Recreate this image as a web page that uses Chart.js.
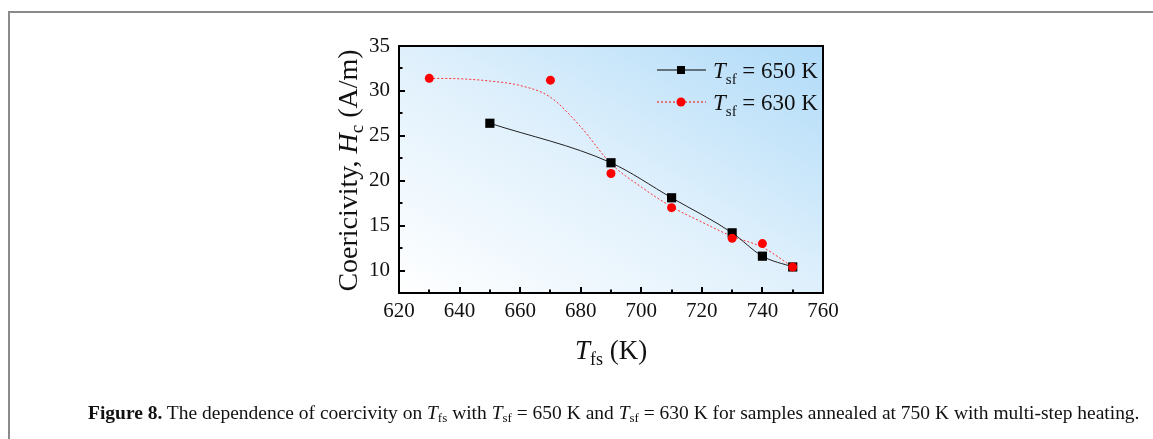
<!DOCTYPE html>
<html>
<head>
<meta charset="utf-8">
<script src="https://cdn.jsdelivr.net/npm/chart.js@4.4.1/dist/chart.umd.min.js"></script>
<style>
  body { margin: 0; background: #fff; width: 1153px; height: 439px; overflow: hidden; position: relative; }
  #frame { position: absolute; left: 8px; top: 11px; width: 1160px; height: 440px; border-top: 2px solid #8a8a8a; border-left: 2px solid #8a8a8a; }
  #chart-holder { position: absolute; left: 0; top: 0; width: 1153px; height: 439px; }
  #caption { position: absolute; left: 88px; top: 403px; font-family: "Liberation Serif", serif; font-size: 18px; white-space: nowrap; transform-origin: 0 0; color: #111; }
  #caption sub { font-size: 12px; vertical-align: -3px; line-height: 0; }
</style>
</head>
<body>
<div id="frame"></div>
<div id="chart-holder"><canvas id="coercivity" width="1153" height="439"></canvas></div>
<div id="caption"><b>Figure 8.</b> The dependence of coercivity on <i>T</i><sub>fs</sub> with <i>T</i><sub>sf</sub> = 650 K and <i>T</i><sub>sf</sub> = 630 K for samples annealed at 750 K with multi-step heating.</div>

<script>
  // T_sf = 650 K
  var temps650 = [650, 690, 710, 730, 740, 750];
  var hc650 = [26.4, 22.0, 18.1, 14.2, 11.6, 10.4];

  // T_sf = 630 K
  var temps630 = [630, 670, 690, 710, 730, 740, 750];
  var hc630 = [31.4, 31.2, 20.8, 17.0, 13.6, 13.0, 10.4];

  // smoothed curve through the 630 K points, as drawn in the figure
  var fitTemps630 = [630, 640, 650, 660, 670, 680, 690, 700, 710, 720, 730, 740, 750];
  var fitHc630 = [31.4, 31.35, 31.1, 30.6, 29.3, 26.0, 21.9, 19.3, 17.1, 15.4, 13.8, 12.6, 10.4];

  var xTicks = [620, 640, 660, 680, 700, 720, 740, 760];
  var yTicks = [10, 15, 20, 25, 30, 35];

  function toPoints(xs, ys) {
    return xs.map(function(x, i) { return { x: x, y: ys[i] }; });
  }

  var serif = '"Liberation Serif", "Times New Roman", serif';

  // draws a mixed run of text pieces: [text, fontSize, italic, baselineShift]
  function drawRuns(ctx, runs, x, y, align) {
    var total = 0;
    runs.forEach(function(r) {
      ctx.font = (r[2] ? 'italic ' : '') + r[1] + 'px ' + serif;
      r.w = ctx.measureText(r[0]).width;
      total += r.w;
    });
    var cx = align === 'center' ? x - total / 2 : x;
    runs.forEach(function(r) {
      ctx.font = (r[2] ? 'italic ' : '') + r[1] + 'px ' + serif;
      ctx.fillText(r[0], cx, y + (r[3] || 0));
      cx += r.w;
    });
  }

  var decorations = {
    id: 'decorations',
    beforeDatasetsDraw: function(chart) {
      var ctx = chart.ctx, a = chart.chartArea;
      var w = a.right - a.left, h = a.bottom - a.top;
      var cx = (a.left + a.right) / 2, cy = (a.top + a.bottom) / 2;
      // colour bands run parallel to the top-left / bottom-right diagonal
      var n = Math.sqrt(w * w + h * h);
      var dx = h / n, dy = -w / n, ext = w * h / n;
      var g = ctx.createLinearGradient(cx - dx * ext, cy - dy * ext, cx + dx * ext, cy + dy * ext);
      g.addColorStop(0, '#ffffff');
      g.addColorStop(0.5, '#dff0fc');
      g.addColorStop(1, '#b0dbf8');
      ctx.save();
      ctx.fillStyle = g;
      ctx.fillRect(a.left, a.top, w, h);
      ctx.restore();
    },
    afterDraw: function(chart) {
      var ctx = chart.ctx, a = chart.chartArea;
      var xs = chart.scales.x, ys = chart.scales.y;
      ctx.save();
      ctx.strokeStyle = '#000';
      ctx.lineWidth = 2;
      ctx.strokeRect(a.left, a.top, a.right - a.left, a.bottom - a.top);
      ctx.beginPath();
      for (var v = 620; v <= 760; v += 10) {
        var px = Math.round(xs.getPixelForValue(v));
        var len = v % 20 === 0 ? 6 : 3.5;
        ctx.moveTo(px, a.bottom); ctx.lineTo(px, a.bottom - len);
      }
      for (var u = 7.5; u <= 35; u += 2.5) {
        var py = Math.round(ys.getPixelForValue(u));
        var l2 = u % 5 === 0 ? 6 : 3.5;
        ctx.moveTo(a.left, py); ctx.lineTo(a.left + l2, py);
      }
      ctx.stroke();

      ctx.fillStyle = '#111';
      ctx.textBaseline = 'alphabetic';
      // x title
      drawRuns(ctx, [['T', 27, true], ['fs', 18, false, 6], [' (K)', 27, false]], 611, 359, 'center');
      // y title
      ctx.save();
      ctx.translate(357, (a.top + a.bottom) / 2 + 1);
      ctx.rotate(-Math.PI / 2);
      drawRuns(ctx, [['Coericivity, ', 28, false], ['H', 28, true], ['c', 19, false, 6], [' (A/m)', 28, false]], 0, 0, 'center');
      ctx.restore();

      // legend
      var rows = [
        { y: 70, label: '650 K', color: '#000', dash: [], square: true },
        { y: 102, label: '630 K', color: '#ff0000', dash: [2, 2], square: false }
      ];
      rows.forEach(function(r) {
        ctx.save();
        ctx.strokeStyle = r.color;
        ctx.lineWidth = 1;
        ctx.setLineDash(r.dash);
        ctx.beginPath(); ctx.moveTo(657, r.y); ctx.lineTo(706, r.y); ctx.stroke();
        ctx.setLineDash([]);
        ctx.fillStyle = r.color;
        if (r.square) {
          ctx.fillRect(677, r.y - 4, 8, 8);
        } else {
          ctx.beginPath(); ctx.arc(681, r.y, 4.5, 0, Math.PI * 2); ctx.fill();
        }
        ctx.restore();
        drawRuns(ctx, [['T', 23, true], ['sf', 15, false, 6], [' = ' + r.label, 23, false]], 713, r.y + 8, 'left');
      });
      ctx.restore();
    }
  };

  var context = document.getElementById('coercivity').getContext('2d');

  var chart = new Chart(context, {
    type: 'scatter',
    data: {
      datasets: [
        {
          label: 'Tsf = 650 K',
          data: toPoints(temps650, hc650),
          showLine: true,
          borderColor: '#222',
          borderWidth: 1,
          cubicInterpolationMode: 'monotone',
          pointStyle: 'rect',
          pointRadius: 6.5,
          pointBackgroundColor: '#000',
          pointBorderColor: '#000',
          pointBorderWidth: 0,
          order: 2
        },
        {
          label: 'Tsf = 630 K fit',
          data: toPoints(fitTemps630, fitHc630),
          showLine: true,
          borderColor: '#ff3030',
          borderWidth: 1,
          borderDash: [2, 2],
          cubicInterpolationMode: 'monotone',
          pointRadius: 0,
          order: 3
        },
        {
          label: 'Tsf = 630 K',
          data: toPoints(temps630, hc630),
          showLine: false,
          pointStyle: 'circle',
          pointRadius: 4.5,
          pointBackgroundColor: '#ff0000',
          pointBorderColor: '#ff0000',
          pointBorderWidth: 0,
          order: 1
        }
      ]
    },
    options: {
      responsive: false,
      animation: false,
      events: [],
      layout: { padding: { left: 359, right: 330, top: 46, bottom: 106 } },
      plugins: { legend: { display: false }, tooltip: { enabled: false } },
      scales: {
        x: {
          type: 'linear',
          min: 620, max: 760,
          grid: { display: false, drawTicks: false },
          border: { display: false },
          afterBuildTicks: function(scale) { scale.ticks = xTicks.map(function(v) { return { value: v }; }); },
          afterFit: function(scale) { scale.height = 40; },
          ticks: { color: '#111', padding: 6, maxRotation: 0, font: { family: serif, size: 21 } }
        },
        y: {
          min: 7.5, max: 35,
          grid: { display: false, drawTicks: false },
          border: { display: false },
          afterBuildTicks: function(scale) { scale.ticks = yTicks.map(function(v) { return { value: v }; }); },
          afterFit: function(scale) { scale.width = 40; },
          ticks: { color: '#111', padding: 9, font: { family: serif, size: 21 } }
        }
      }
    },
    plugins: [decorations]
  });

  // squeeze the caption to the width it takes in the figure
  var cap = document.getElementById('caption');
  cap.style.transform = 'scaleX(' + (1052 / cap.offsetWidth) + ')';
</script>
</body>
</html>
